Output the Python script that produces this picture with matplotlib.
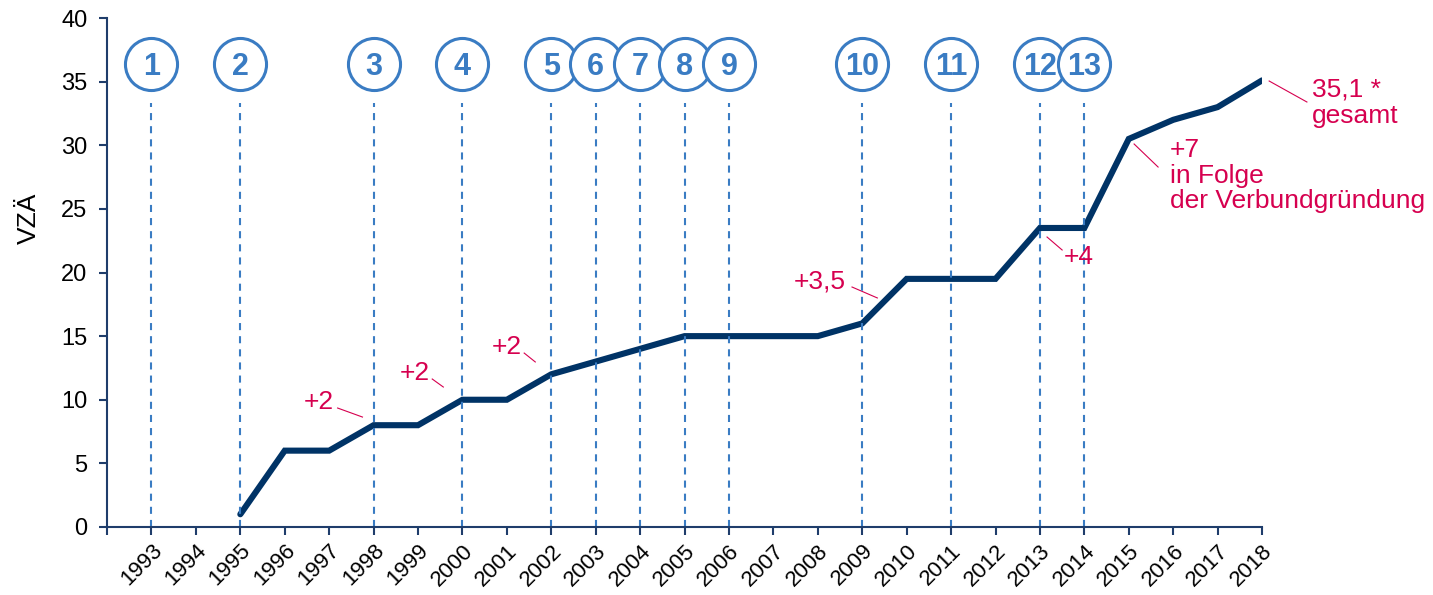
import matplotlib.pyplot as plt

plt.rcParams['font.family'] = ['Liberation Sans', 'DejaVu Sans']

# Data
years = list(range(1995, 2019))
vza = [1, 6, 6, 8, 8, 10, 10, 12, 13, 14, 15, 15, 15, 15, 16,
       19.5, 19.5, 19.5, 23.5, 23.5, 30.5, 32, 33, 35.1]
tick_years = list(range(1992, 2019))
tick_labels = [''] + [str(y) for y in range(1993, 2019)]

# numbered events (circle markers with dashed lines)
event_years = [1993, 1995, 1998, 2000, 2002, 2003, 2004, 2005, 2006,
               2009, 2011, 2013, 2014]
event_labels = [str(i) for i in range(1, 14)]

# annotations: text, text position, leader start, leader end
notes = [
    ("+2", (1996.76, 9.8), (1997.19, 9.35), (1997.75, 8.64)),
    ("+2", (1998.92, 12.1), (1999.32, 11.63), (1999.57, 11.0)),
    ("+2", (2001.01, 14.15), (2001.39, 13.67), (2001.64, 12.97)),
    ("+3,5", (2008.05, 19.33), (2008.77, 18.86), (2009.34, 18.0)),
    ("+4", (2013.88, 21.2), (2013.16, 22.79), (2013.5, 21.77)),
]

navy = '#003366'
blue = '#3a7cc3'
red = '#d6004f'
axis_col = '#1f3d6b'

fig = plt.figure(figsize=(14.33, 5.95), dpi=100)
ax = fig.add_axes([0.0747, 0.1143, 0.806, 0.8554])

# dashed event lines and circles
for yr, lab in zip(event_years, event_labels):
    ax.plot([yr, yr], [0, 33.3], ls=(0, (3.4, 2.9)), color=blue, lw=1.5, zorder=2.5)
for i, (yr, lab) in enumerate(zip(event_years, event_labels)):
    ax.plot(yr, 36.4, marker='o', markersize=37.5, mfc='white', mec=blue,
            mew=2.2, zorder=3 + i, clip_on=False)
    ax.text(yr, 36.4, lab, color=blue, fontsize=22, fontweight='bold',
            ha='center', va='center_baseline', zorder=3 + i)

# main line
ax.plot(years, vza, color=navy, lw=4.4, solid_capstyle='round',
        solid_joinstyle='miter', zorder=2)

# annotations
for txt, pos, p0, p1 in notes:
    ax.text(pos[0], pos[1], txt, color=red, fontsize=19, ha='center', va='center')
    ax.plot([p0[0], p1[0]], [p0[1], p1[1]], color=red, lw=0.8)

ax.text(2015.93, 30.6, "+7\nin Folge\nder Verbundgründung", color=red,
        fontsize=19, ha='left', va='top', linespacing=1.1, clip_on=False)
ax.plot([2015.12, 2015.66], [30.1, 28.29], color=red, lw=0.8)
ax.text(2019.12, 35.3, "35,1 *\ngesamt", color=red, fontsize=19,
        ha='left', va='top', linespacing=1.1, clip_on=False)
ax.plot([2018.16, 2019.01], [35.05, 33.4], color=red, lw=0.8, clip_on=False)

# axes formatting
ax.set_xlim(1992, 2018)
ax.set_ylim(0, 40)
ax.set_xticks(tick_years)
ax.set_xticklabels(tick_labels, rotation=45, ha='right', rotation_mode='anchor',
                   fontsize=16)
ax.set_yticks(range(0, 41, 5))
ax.tick_params(axis='y', labelsize=17, pad=8)
ax.tick_params(axis='both', direction='out', length=6, width=1.5, color=axis_col)
ax.set_ylabel("VZÄ", fontsize=19)
ax.yaxis.set_label_coords(-0.057, 0.607)
for s in ['top', 'right']:
    ax.spines[s].set_visible(False)
for s in ['left', 'bottom']:
    ax.spines[s].set_color(axis_col)
    ax.spines[s].set_linewidth(1.5)

plt.savefig('out.png')
